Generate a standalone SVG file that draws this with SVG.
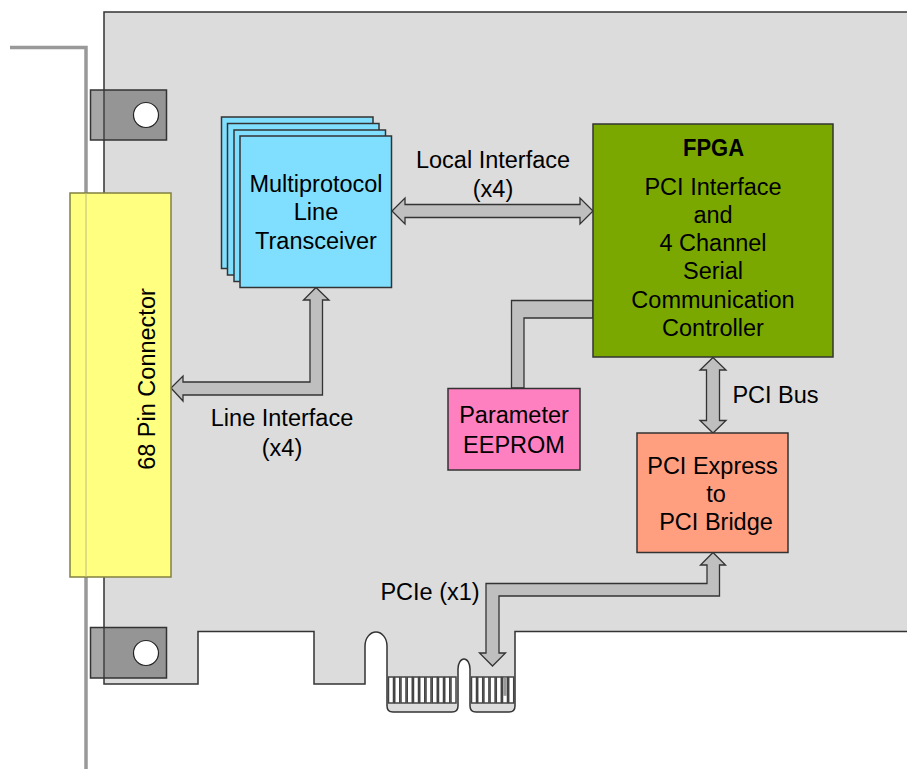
<svg xmlns="http://www.w3.org/2000/svg" width="907" height="769" viewBox="0 0 907 769">
<style>
text{font-family:"Liberation Sans",Arial,sans-serif;font-size:23.500px;fill:#000;text-anchor:middle}
.arrow{fill:#bfbfbf;stroke:#333;stroke-width:1.300;stroke-linejoin:miter}
.box{stroke:#333;stroke-width:1.500}
.blue{fill:#80dfff}
.tab{fill:#4d4d4d;fill-opacity:.5;stroke:#333;stroke-width:1.500}
.hole{fill:#fff;stroke:#222;stroke-width:1.200}
.finger{fill:#fff;stroke:#444;stroke-width:1.500}
</style>
<g id="bracket"><path d="M10 47.500H86V769" fill="none" stroke="#999" stroke-width="3.500"/></g>
<g id="board"><path d="M907 12H104V684H198V631.500H314V684H365V646A11 14 0 0 1 387 646V706Q387 712 393 712H452Q458 712 458 706V669A6 10 0 0 1 470 669V706Q470 712 476 712H509Q515 712 515 706V631.500H907" fill="#dcdcdc" stroke="#333" stroke-width="1.500"/>
<g id="fingers">
<rect class="finger" x="388.500" y="677" width="5" height="26"/><rect class="finger" x="394.750" y="677" width="5" height="26"/><rect class="finger" x="401" y="677" width="5" height="26"/><rect class="finger" x="407.250" y="677" width="5" height="26"/><rect class="finger" x="413.500" y="677" width="5" height="26"/><rect class="finger" x="419.750" y="677" width="5" height="26"/><rect class="finger" x="426" y="677" width="5" height="26"/><rect class="finger" x="432.250" y="677" width="5" height="26"/><rect class="finger" x="438.500" y="677" width="5" height="26"/><rect class="finger" x="444.750" y="677" width="5" height="26"/><rect class="finger" x="451" y="677" width="5" height="26"/>
<rect class="finger" x="471.500" y="677" width="5" height="26"/><rect class="finger" x="477.700" y="677" width="5" height="26"/><rect class="finger" x="483.900" y="677" width="5" height="26"/><rect class="finger" x="490.100" y="677" width="5" height="26"/><rect class="finger" x="496.300" y="677" width="5" height="26"/><rect class="finger" x="502.500" y="677" width="5" height="26"/><rect x="503.300" y="677.800" width="3.400" height="18" fill="#999"/><rect class="finger" x="508.700" y="677" width="5" height="26"/>
</g></g>
<g id="tab-top"><rect class="tab" x="90.500" y="90" width="76" height="50"/><circle class="hole" cx="146" cy="115" r="12.500"/></g>
<g id="tab-bottom"><rect class="tab" x="90.500" y="627.500" width="76" height="50.500"/><circle class="hole" cx="146" cy="653" r="12.500"/></g>
<g id="connectors">
<path id="local-interface" class="arrow" d="M392 211L405 198V204.500H580V198L593 211L580 224V217.500H405V224Z"/>
<path id="line-interface" class="arrow" d="M171 388L183 376V382H310V300H303.500L316 287.500L329 300H322.500V395H183V401Z"/>
<path id="eeprom-link" class="arrow" d="M593 300.500H511.500V388H524V318H593Z"/>
<path id="pci-bus" class="arrow" d="M713 357.500L726 370H719.500V420.500H726L713 433L700 420.500H706.500V370H700Z"/>
<path id="pcie-link" class="arrow" d="M713 552.500L725.500 565H719.500V596H499V653H505.500L492.500 666L479.500 653H486V583.500H707V565H700.500Z"/>
</g>
<g id="connector"><rect x="70" y="193" width="101" height="384" fill="#ffff80" stroke="#808040" stroke-width="1.500"/><path d="M86 193V577" stroke="#bdbd80" stroke-width="1"/><text transform="translate(155 379) rotate(-90)">68 Pin Connector</text></g>
<g id="transceiver">
<rect class="box blue" x="221.500" y="117" width="151.500" height="151.500"/>
<rect class="box blue" x="227.500" y="123.500" width="151.500" height="151.500"/>
<rect class="box blue" x="234" y="130" width="151.500" height="151.500"/>
<rect class="box blue" x="240" y="136" width="151.500" height="151.500"/>
<text x="316" y="192">Multiprotocol</text><text x="316" y="220">Line</text><text x="316" y="249">Transceiver</text>
</g>
<g id="fpga"><rect class="box" x="593" y="124" width="240" height="233" fill="#7aa800"/>
<text x="713.500" y="156" font-weight="700" textLength="61" lengthAdjust="spacingAndGlyphs">FPGA</text><text x="713" y="195">PCI Interface</text><text x="713" y="223">and</text><text x="713" y="251">4 Channel</text><text x="713" y="279">Serial</text><text x="713" y="308">Communication</text><text x="713" y="336">Controller</text></g>
<g id="eeprom"><rect class="box" x="448" y="388.500" width="132" height="81.500" fill="#ff80c0"/><text x="514" y="423">Parameter</text><text x="514" y="453">EEPROM</text></g>
<g id="bridge"><rect class="box" x="637" y="433" width="151" height="119.500" fill="#ff9f80"/><text x="712.500" y="474">PCI Express</text><text x="716" y="502">to</text><text x="716" y="530">PCI Bridge</text></g>
<g id="labels">
<text x="493" y="168">Local Interface</text><text x="493" y="197">(x4)</text>
<text x="282" y="426">Line Interface</text><text x="282" y="456">(x4)</text>
<text x="775.500" y="403">PCI Bus</text>
<text x="430" y="600">PCIe (x1)</text>
</g>
</svg>
